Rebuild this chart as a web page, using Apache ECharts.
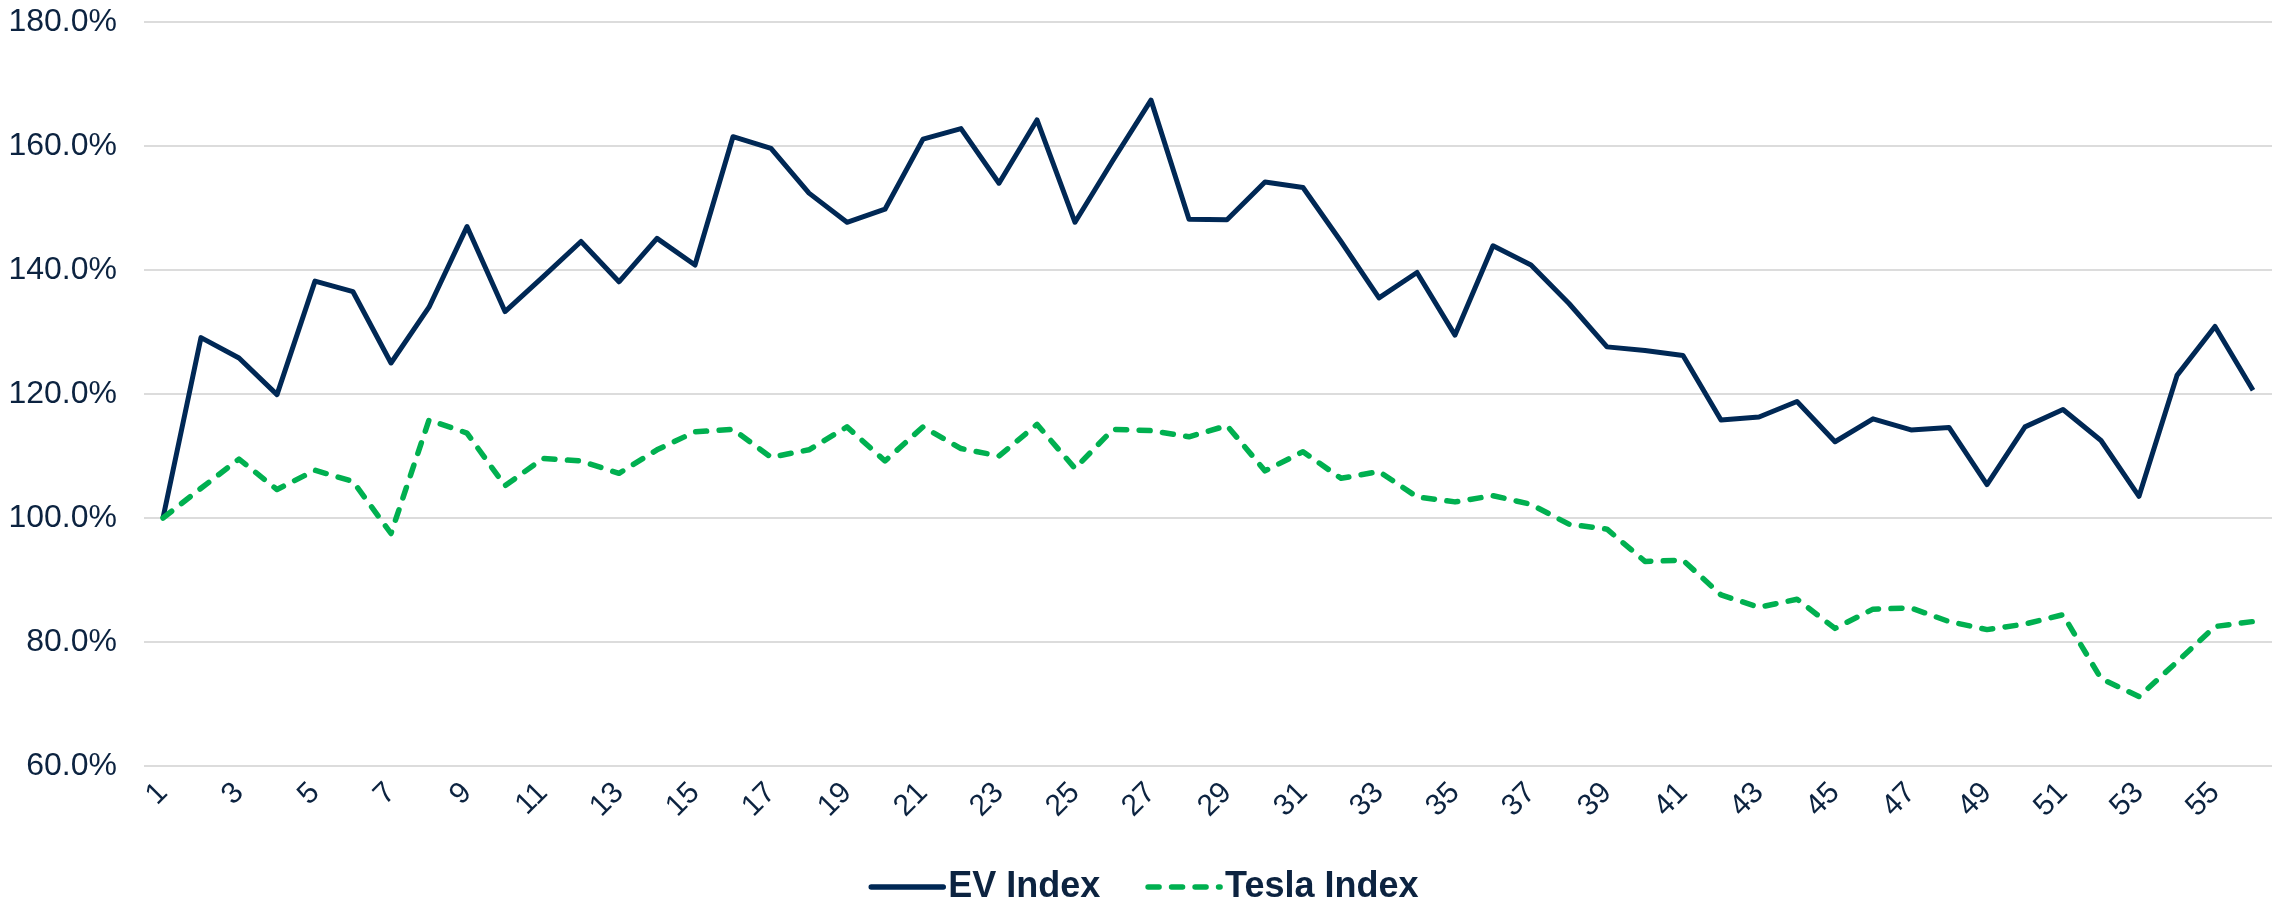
<!DOCTYPE html>
<html>
<head>
<meta charset="utf-8">
<title>EV Index vs Tesla Index</title>
<script src="https://cdn.jsdelivr.net/npm/echarts@6/dist/echarts.min.js"></script>
<style>
    html, body { margin: 0; padding: 0; background: #fff; }
    #chart_main { width: 2287px; height: 900px; }
</style>
</head>
<body>
<div id="chart_main"></div>
<script>
// data (percent)
var categories = [];
for (var i = 1; i <= 56; i++) { categories.push(String(i)); }

var evIndex = [100, 129.1, 125.8, 119.9, 138.2, 136.5, 125.0, 134.0, 147.0, 133.3,
    138.9, 144.6, 138.1, 145.1, 140.8, 161.5, 159.6, 152.4, 147.7, 149.8,
    161.1, 162.8, 154.0, 164.2, 147.7, 157.7, 167.4, 148.2, 148.1, 154.2,
    153.3, 144.6, 135.5, 139.6, 129.5, 143.9, 140.8, 134.6, 127.6, 127.0,
    126.2, 115.8, 116.3, 118.8, 112.3, 116.0, 114.2, 114.6, 105.4, 114.7,
    117.5, 112.5, 103.5, 123.0, 130.9, 120.6];

var teslaIndex = [100, 104.8, 109.5, 104.6, 107.7, 105.9, 97.5, 115.8, 113.7, 105.2,
    109.6, 109.2, 107.2, 111.0, 113.9, 114.3, 109.8, 111.0, 114.7, 109.2,
    114.7, 111.2, 110.0, 115.1, 108.0, 114.3, 114.1, 113.1, 114.9, 107.6,
    110.7, 106.4, 107.5, 103.4, 102.6, 103.6, 102.2, 99.0, 98.2, 93.0,
    93.2, 87.6, 85.6, 86.9, 82.2, 85.3, 85.5, 83.3, 82.0, 82.9,
    84.4, 74.1, 71.2, 76.8, 82.5, 83.3];

var yTicks = { min: 60, max: 180, step: 20 };

var myChart = '';
var option = '';
var textColor = '#0c2340';
var fontName = '"Liberation Sans", Arial, sans-serif';
var evColor = '#002855';
var teslaColor = '#00b050';
var teslaDash = [11, 12.5];

window.onload = function () {
    myChart = echarts.init(document.getElementById('chart_main'));

    option = {
        backgroundColor: '#ffffff',
        animation: false,
        grid: {
            left: 144,
            right: 15,
            top: 22,
            bottom: 134
        },
        legend: {
            top: 864,
            left: 'center',
            itemWidth: 72,
            itemHeight: 14,
            itemGap: 45,
            itemStyle: { color: 'transparent', borderWidth: 0, opacity: 0 },
            textStyle: {
                color: textColor,
                fontFamily: fontName,
                fontSize: 36,
                fontWeight: 'bold'
            },
            data: [{
                name: 'EV Index',
                lineStyle: { color: evColor, width: 5.5, cap: 'round' }
            }, {
                name: 'Tesla Index',
                lineStyle: { color: teslaColor, width: 5.5, type: teslaDash, cap: 'round' }
            }]
        },
        xAxis: {
            type: 'category',
            boundaryGap: true,
            data: categories,
            axisLine: { show: false },
            axisTick: { show: false },
            axisLabel: {
                interval: 1,
                rotate: 45,
                margin: 22,
                color: textColor,
                fontFamily: fontName,
                fontSize: 30
            }
        },
        yAxis: {
            type: 'value',
            min: yTicks.min,
            max: yTicks.max,
            interval: yTicks.step,
            axisLine: { show: false },
            axisTick: { show: false },
            splitLine: {
                lineStyle: { color: '#dcdcdc', width: 2 }
            },
            axisLabel: {
                margin: 27,
                color: textColor,
                fontFamily: fontName,
                fontSize: 32,
                formatter: function (v) { return v.toFixed(1) + '%'; }
            }
        },
        series: [{
            name: 'EV Index',
            type: 'line',
            data: evIndex,
            symbol: 'none',
            color: evColor,
            lineStyle: { color: evColor, width: 5, join: 'round' }
        }, {
            name: 'Tesla Index',
            type: 'line',
            data: teslaIndex,
            symbol: 'none',
            color: teslaColor,
            lineStyle: { color: teslaColor, width: 5.5, type: teslaDash, cap: 'round', join: 'round' }
        }]
    };

    myChart.setOption(option);
};
</script>
</body>
</html>
